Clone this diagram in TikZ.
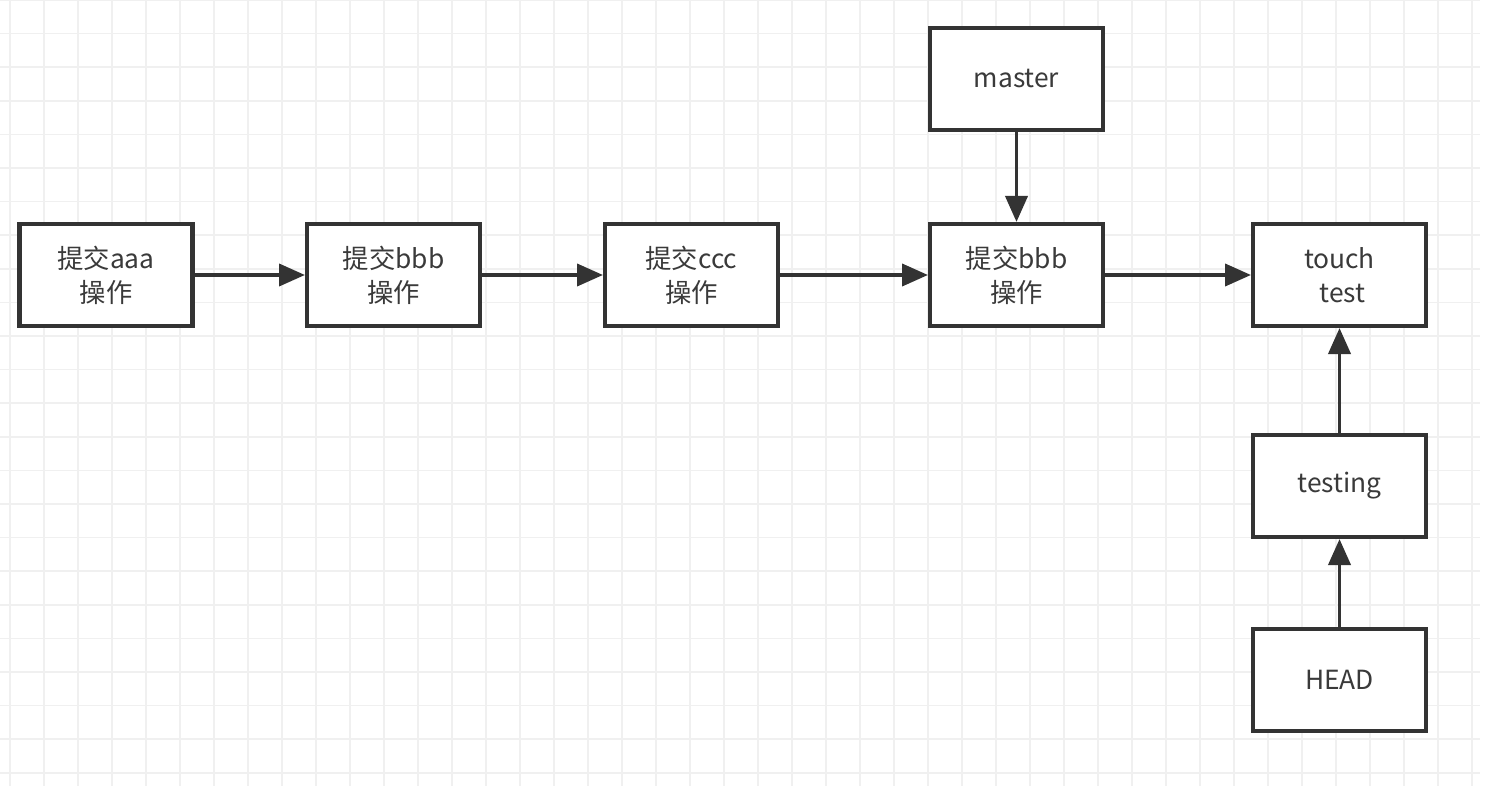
\documentclass[tikz,border=0pt]{standalone}
\usepackage{fontspec}
\setmainfont{Noto Sans CJK SC}
\usetikzlibrary{arrows.meta}
\definecolor{gridc}{HTML}{F0F0F0}
\definecolor{linec}{HTML}{333333}
\definecolor{textc}{HTML}{3A3A3A}
\tikzset{
  box/.style={draw=linec, line width=2.3pt, fill=white, minimum width=3.46cm, minimum height=2.04cm, inner sep=0pt, align=center, text=textc, font=\fontsize{15}{19.3}\selectfont},
  conn/.style={draw=linec, line width=2.2pt, -{Triangle[length=0.52cm,width=0.44cm]}, shorten >=0pt}
}
\begin{document}
\begin{tikzpicture}[x=0.02cm,y=-0.02cm]
\useasboundingbox (0,0) rectangle (1500,786);
\fill[white] (0,0) rectangle (1500,786);
% grid
\foreach \gx in {10,44,...,1480} \draw[gridc, line width=0.9pt] (\gx,0) -- (\gx,786);
\foreach \gy in {0,33.6,...,786} \draw[gridc, line width=0.9pt] (0,\gy) -- (1480,\gy);
% nodes
\node[box] (a) at (106,275) {提交aaa\\操作};
\node[box] (b) at (393.5,275) {提交bbb\\操作};
\node[box] (c) at (691.5,275) {提交ccc\\操作};
\node[box] (d) at (1016.5,275) {提交bbb\\操作};
\node[box] (m) at (1016.5,79) {master};
\node[box] (t) at (1339.5,275) {touch\\\ test};
\node[box] (g) at (1339.5,486) {testing};
\node[box] (h) at (1339.5,680) {HEAD};
% connectors
\draw[conn] (a) -- (b);
\draw[conn] (b) -- (c);
\draw[conn] (c) -- (d);
\draw[conn] (d) -- (t);
\draw[conn] (m) -- (d);
\draw[conn] (g) -- (t);
\draw[conn] (h) -- (g);
\end{tikzpicture}
\end{document}
